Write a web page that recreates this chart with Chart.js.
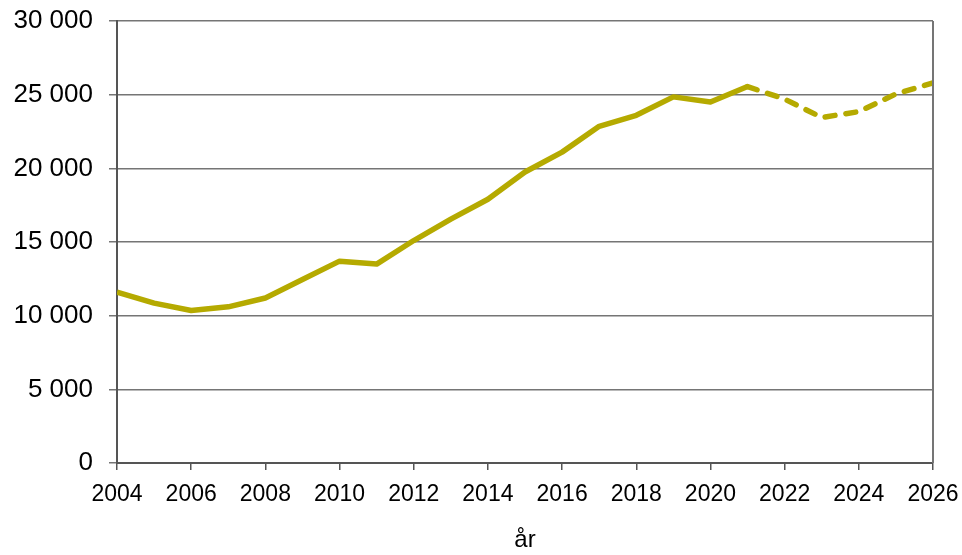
<!DOCTYPE html>
<html>
<head>
<meta charset="utf-8">
<script src="https://cdn.jsdelivr.net/npm/chart.js@4/dist/chart.umd.min.js"></script>
<style>
  html, body { margin: 0; padding: 0; background: #fff; }
  #wrap { width: 962px; height: 555px; position: relative; }
</style>
</head>
<body>
<div id="wrap"><canvas id="chart"></canvas></div>
<script>
// ── data ──────────────────────────────────────────
const years  = [2004, 2005, 2006, 2007, 2008, 2009, 2010, 2011, 2012, 2013, 2014,
                2015, 2016, 2017, 2018, 2019, 2020, 2021, 2022, 2023, 2024, 2025, 2026];
const values = [11600, 10850, 10350, 10600, 11200, 12450, 13700, 13500, 15100, 16550, 17900,
                19750, 21100, 22850, 23600, 24850, 24500, 25550, 24700, 23450, 23850, 25050, 25800];
const lastActualYear = 2021;   // prognos (streckad) efter detta år

const yTicks = [0, 5000, 10000, 15000, 20000, 25000, 30000];

const LINE  = "#B5AA00";
const GRID  = "#757575";
const AXIS  = "#555555";
const FONT  = "'Liberation Sans', Arial, sans-serif";

const points = years.map((y, i) => ({ x: y, y: values[i] }));
const splitIdx = years.indexOf(lastActualYear);

const fmt = v => v.toLocaleString("sv-SE").replace(/\s/g, " ");

// ram på höger sida av ritytan
const rightFrame = {
  id: "rightFrame",
  afterDraw(chart) {
    const { ctx, chartArea: a } = chart;
    ctx.save();
    ctx.strokeStyle = GRID;
    ctx.lineWidth = 2;
    ctx.beginPath();
    ctx.moveTo(a.right, a.top);
    ctx.lineTo(a.right, a.bottom);
    ctx.stroke();
    ctx.restore();
  }
};

new Chart(document.getElementById("chart"), {
  type: "line",
  data: {
    datasets: [{
      data: points,
      borderColor: LINE,
      borderWidth: 5.5,
      borderJoinStyle: "round",
      pointRadius: 0,
      tension: 0,
      fill: false,
      segment: {
        borderDash: c => c.p0DataIndex >= splitIdx ? [10, 11] : undefined,
        borderCapStyle: c => c.p0DataIndex >= splitIdx ? "round" : "butt",
      },
    }],
  },
  options: {
    responsive: true,
    maintainAspectRatio: false,
    animation: false,
    layout: { padding: { left: 0, right: 29, top: 21, bottom: 0 } },
    plugins: { legend: { display: false }, tooltip: { enabled: false } },
    scales: {
      x: {
        type: "linear",
        min: years[0],
        max: years[years.length - 1],
        afterBuildTicks(scale) {
          scale.ticks = years.filter(y => (y - years[0]) % 2 === 0).map(v => ({ value: v }));
        },
        afterFit(scale) {
          scale.height = 92;
          scale.paddingLeft = 0;
          scale.paddingRight = 0;
        },
        grid: { drawOnChartArea: false, drawTicks: true, tickLength: 7, color: AXIS, lineWidth: 1.5 },
        border: { color: AXIS, width: 2 },
        ticks: {
          color: "#000",
          font: { family: FONT, size: 23 },
          padding: 11,
          maxRotation: 0,
          autoSkip: false,
          callback: v => String(v),
        },
        title: {
          display: true,
          text: "år",
          color: "#000",
          font: { family: FONT, size: 24 },
          padding: { top: 0, bottom: 0 },
        },
      },
      y: {
        min: 0,
        max: 30000,
        afterBuildTicks(scale) {
          scale.ticks = yTicks.map(v => ({ value: v }));
        },
        afterFit(scale) {
          scale.width = 117;
          scale.paddingTop = 0;
          scale.paddingBottom = 0;
        },
        grid: { color: GRID, lineWidth: 1.5, drawTicks: true, tickLength: 8 },
        border: { color: AXIS, width: 2 },
        ticks: {
          color: "#000",
          font: { family: FONT, size: 26 },
          padding: 16,
          callback: v => fmt(v),
        },
      },
    },
  },
  plugins: [rightFrame],
});
</script>
</body>
</html>
